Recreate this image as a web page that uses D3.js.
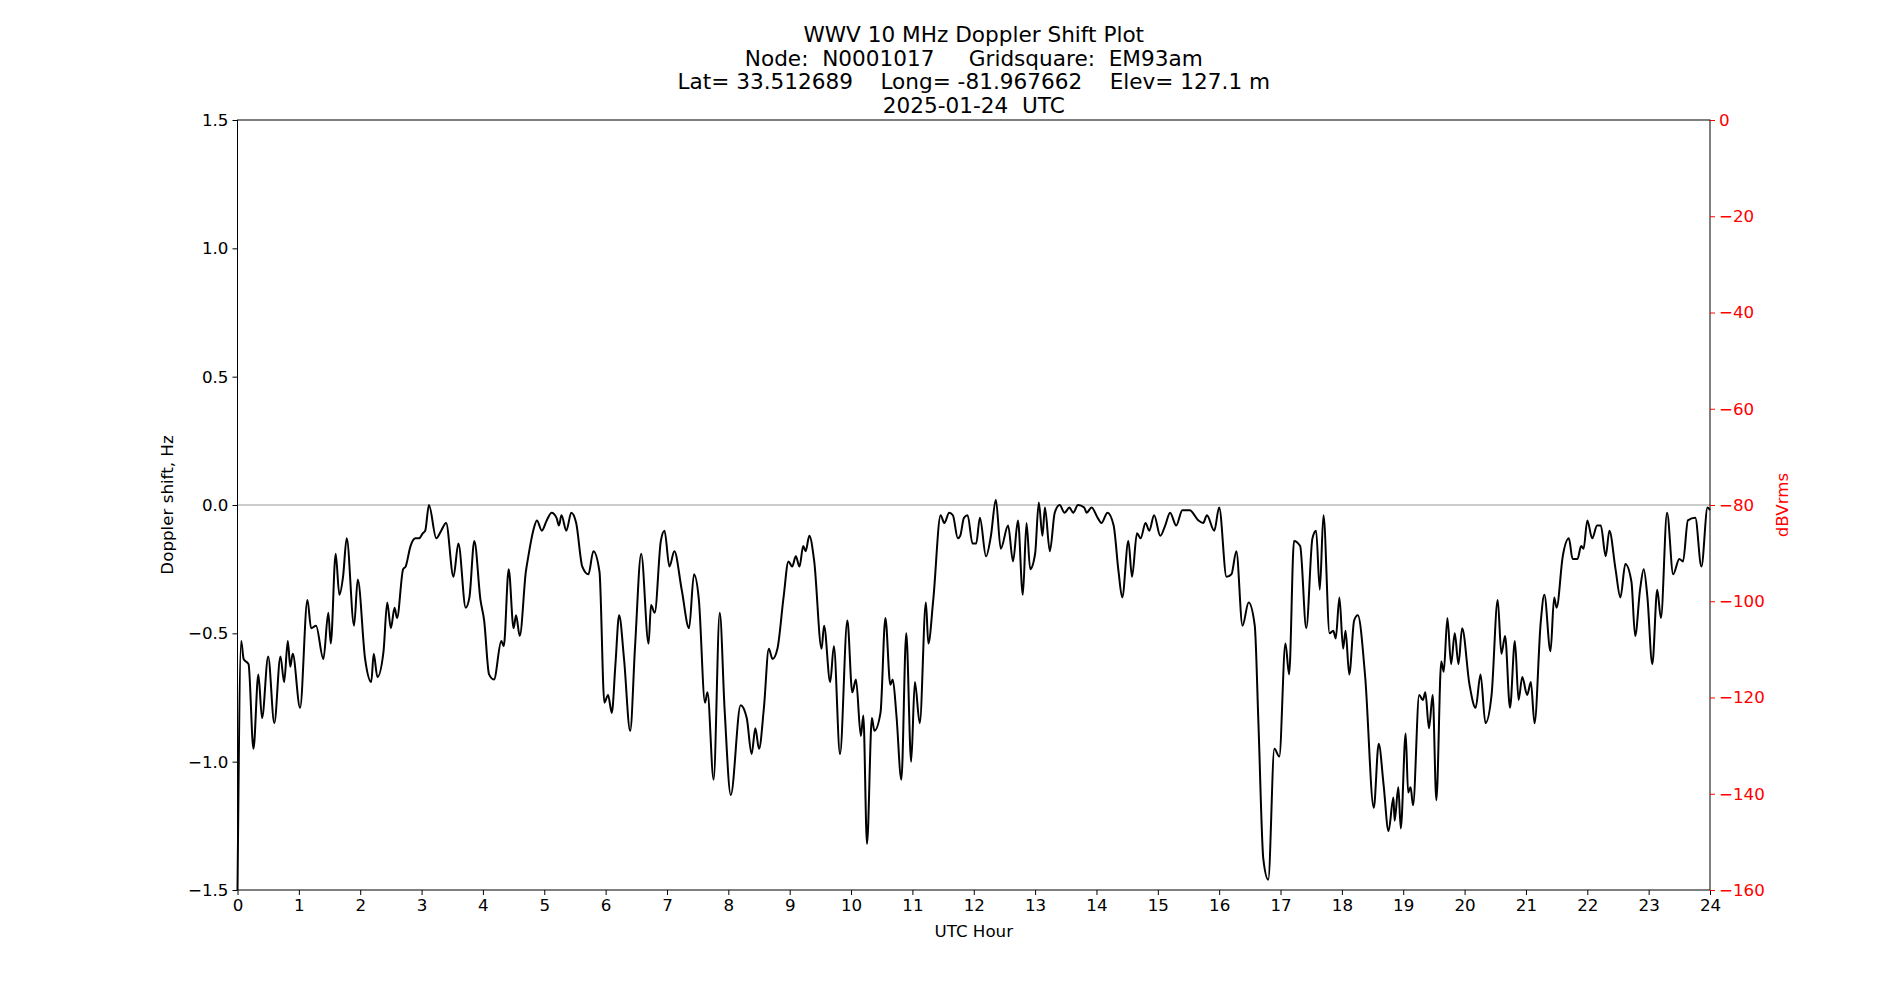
<!DOCTYPE html><html><head><meta charset="utf-8"><script src="https://cdn.jsdelivr.net/npm/d3@7"></script>
<style>body{margin:0;background:#fff}text{font-family:"DejaVu Sans",sans-serif;white-space:pre}</style></head><body><svg id="c" width="1900" height="1000"></svg>
<script>
const titleLines=["WWV 10 MHz Doppler Shift Plot","Node:  N0001017     Gridsquare:  EM93am","Lat= 33.512689    Long= -81.967662    Elev= 127.1 m","2025-01-24  UTC"];
const hours=[0,0.06,0.1,0.18,0.26,0.34,0.4,0.5,0.6,0.7,0.76,0.82,0.86,0.9,1.02,1.14,1.2,1.28,1.4,1.48,1.52,1.6,1.66,1.72,1.78,1.9,1.96,2.08,2.18,2.22,2.28,2.38,2.44,2.5,2.56,2.6,2.7,2.74,2.82,2.9,2.96,3.02,3.06,3.12,3.24,3.32,3.4,3.52,3.6,3.72,3.78,3.86,3.96,4.02,4.1,4.18,4.3,4.34,4.42,4.5,4.54,4.6,4.7,4.74,4.82,4.88,4.96,5.04,5.12,5.2,5.24,5.28,5.36,5.44,5.52,5.62,5.72,5.8,5.9,5.98,6.04,6.1,6.16,6.22,6.3,6.4,6.48,6.58,6.7,6.74,6.8,6.9,6.96,7.04,7.12,7.24,7.36,7.44,7.52,7.62,7.66,7.76,7.86,7.94,8.04,8.2,8.3,8.38,8.44,8.5,8.58,8.66,8.72,8.8,8.9,8.98,9.04,9.1,9.16,9.22,9.26,9.32,9.4,9.52,9.56,9.66,9.72,9.82,9.94,10.02,10.08,10.16,10.2,10.26,10.34,10.38,10.48,10.56,10.64,10.68,10.74,10.82,10.9,10.98,11.04,11.12,11.22,11.26,11.34,11.46,11.52,11.6,11.66,11.74,11.78,11.84,11.9,11.98,12.04,12.1,12.2,12.28,12.36,12.44,12.56,12.64,12.72,12.8,12.86,12.92,13.0,13.06,13.12,13.16,13.24,13.32,13.4,13.48,13.56,13.62,13.7,13.8,13.84,13.92,14.02,14.08,14.18,14.28,14.36,14.42,14.52,14.58,14.66,14.72,14.8,14.86,14.94,15.04,15.12,15.2,15.3,15.4,15.52,15.66,15.74,15.8,15.92,16.0,16.12,16.2,16.28,16.38,16.48,16.58,16.64,16.72,16.8,16.9,16.98,17.08,17.14,17.22,17.32,17.42,17.52,17.58,17.64,17.7,17.8,17.86,17.9,17.96,18.02,18.06,18.12,18.2,18.26,18.38,18.52,18.6,18.68,18.76,18.84,18.86,18.92,18.96,19.04,19.08,19.12,19.16,19.26,19.32,19.36,19.42,19.48,19.54,19.62,19.66,19.72,19.78,19.84,19.9,19.96,20.08,20.18,20.26,20.34,20.44,20.54,20.6,20.66,20.74,20.82,20.88,20.94,21.02,21.08,21.14,21.24,21.3,21.4,21.46,21.5,21.6,21.7,21.76,21.84,21.9,21.94,22.0,22.08,22.16,22.22,22.3,22.36,22.46,22.54,22.62,22.72,22.78,22.86,22.92,22.98,23.06,23.14,23.2,23.3,23.4,23.5,23.56,23.64,23.76,23.86,23.96,24];
const doppler=[-1.5,-0.53,-0.6,-0.62,-0.95,-0.66,-0.83,-0.59,-0.85,-0.59,-0.69,-0.53,-0.63,-0.58,-0.79,-0.37,-0.48,-0.47,-0.6,-0.42,-0.54,-0.19,-0.35,-0.28,-0.13,-0.47,-0.29,-0.6,-0.69,-0.58,-0.67,-0.57,-0.38,-0.48,-0.4,-0.44,-0.25,-0.24,-0.16,-0.13,-0.13,-0.11,-0.1,0.0,-0.13,-0.1,-0.07,-0.28,-0.15,-0.4,-0.36,-0.14,-0.37,-0.45,-0.66,-0.68,-0.53,-0.55,-0.25,-0.48,-0.43,-0.51,-0.26,-0.2,-0.1,-0.06,-0.1,-0.06,-0.03,-0.05,-0.08,-0.04,-0.1,-0.03,-0.07,-0.24,-0.27,-0.18,-0.26,-0.77,-0.74,-0.81,-0.62,-0.43,-0.6,-0.88,-0.55,-0.19,-0.54,-0.39,-0.42,-0.14,-0.1,-0.24,-0.18,-0.33,-0.48,-0.27,-0.37,-0.77,-0.73,-1.07,-0.42,-0.8,-1.13,-0.78,-0.83,-0.97,-0.87,-0.95,-0.79,-0.56,-0.6,-0.56,-0.36,-0.22,-0.24,-0.2,-0.24,-0.16,-0.18,-0.12,-0.22,-0.56,-0.47,-0.69,-0.55,-0.97,-0.45,-0.73,-0.68,-0.9,-0.82,-1.32,-0.83,-0.88,-0.81,-0.44,-0.7,-0.68,-0.82,-1.07,-0.5,-1.0,-0.69,-0.85,-0.38,-0.54,-0.37,-0.04,-0.07,-0.03,-0.04,-0.13,-0.12,-0.05,-0.04,-0.15,-0.15,-0.05,-0.2,-0.12,0.02,-0.17,-0.08,-0.22,-0.06,-0.35,-0.07,-0.25,-0.19,0.01,-0.12,-0.01,-0.18,-0.03,0.0,-0.03,-0.01,-0.03,0.0,-0.01,-0.03,-0.01,-0.05,-0.07,-0.03,-0.08,-0.26,-0.36,-0.14,-0.28,-0.11,-0.13,-0.07,-0.1,-0.04,-0.12,-0.08,-0.03,-0.08,-0.02,-0.02,-0.06,-0.07,-0.04,-0.1,-0.01,-0.28,-0.27,-0.18,-0.47,-0.38,-0.47,-0.85,-1.38,-1.46,-0.95,-0.98,-0.54,-0.66,-0.14,-0.16,-0.48,-0.13,-0.1,-0.33,-0.04,-0.5,-0.49,-0.52,-0.36,-0.56,-0.49,-0.66,-0.45,-0.43,-0.67,-1.18,-0.93,-1.09,-1.27,-1.14,-1.23,-1.1,-1.26,-0.89,-1.12,-1.1,-1.17,-0.74,-0.76,-0.73,-0.87,-0.74,-1.15,-0.61,-0.65,-0.44,-0.62,-0.5,-0.62,-0.48,-0.7,-0.79,-0.66,-0.85,-0.74,-0.37,-0.58,-0.51,-0.79,-0.53,-0.76,-0.67,-0.74,-0.69,-0.85,-0.46,-0.35,-0.57,-0.36,-0.4,-0.2,-0.13,-0.21,-0.21,-0.16,-0.17,-0.06,-0.13,-0.08,-0.08,-0.2,-0.1,-0.25,-0.36,-0.23,-0.3,-0.51,-0.33,-0.25,-0.36,-0.62,-0.33,-0.44,-0.03,-0.27,-0.21,-0.22,-0.06,-0.05,-0.24,-0.01,-0.02];
const xTicks=d3.range(0,25,1), yTicks=[-1.5,-1.0,-0.5,0.0,0.5,1.0,1.5], rTicks=[0,-20,-40,-60,-80,-100,-120,-140,-160];

const svg=d3.select("#c"), L=237.5,R=1710,T=120,B=890;
const x=d3.scaleLinear().domain([0,24]).range([L,R]);
const y=d3.scaleLinear().domain([-1.5,1.5]).range([B,T]);
const yr=d3.scaleLinear().domain([-160,0]).range([B,T]);
const mfmt=(f)=>v=>f(v).replace("-","\u2212");
svg.append("line").attr("x1",L).attr("x2",R).attr("y1",y(0)).attr("y2",y(0)).attr("stroke","#999").attr("stroke-width",1.2);
const g=svg.append("g");
g.append("path").datum(hours.map((h,i)=>[h,doppler[i]])).attr("fill","none").attr("stroke","#000").attr("stroke-width",2)
 .attr("d",d3.line().x(d=>x(d[0])).y(d=>y(d[1])).curve(d3.curveMonotoneX));
svg.append("rect").attr("x",L).attr("y",T).attr("width",R-L).attr("height",B-T).attr("fill","none").attr("stroke","#000").attr("stroke-width",1);
const st=(a,c)=>{a.selectAll("text").style("font-size","16.7px").attr("fill",c);a.selectAll("line").attr("stroke",c).attr("stroke-width",1);a.select(".domain").remove();};
svg.append("g").attr("transform",`translate(0,${B})`).call(d3.axisBottom(x).tickValues(xTicks).tickSize(5).tickPadding(4).tickFormat(d3.format("d"))).call(a=>st(a,"#000"));
svg.append("g").attr("transform",`translate(${L},0)`).call(d3.axisLeft(y).tickValues(yTicks).tickSize(5).tickPadding(4).tickFormat(mfmt(d3.format(".1f")))).call(a=>st(a,"#000"));
svg.append("g").attr("transform",`translate(${R},0)`).call(d3.axisRight(yr).tickValues(rTicks).tickSize(5).tickPadding(4).tickFormat(mfmt(d3.format("d")))).call(a=>st(a,"red"));
svg.append("text").attr("x",(L+R)/2).attr("y",937).attr("text-anchor","middle").style("font-size","16.7px").text("UTC Hour");
svg.append("text").attr("transform",`translate(173,${(T+B)/2}) rotate(-90)`).attr("text-anchor","middle").style("font-size","16.7px").text("Doppler shift, Hz");
svg.append("text").attr("transform",`translate(1788,${(T+B)/2}) rotate(-90)`).attr("text-anchor","middle").attr("fill","red").style("font-size","16.7px").text("dBVrms");
titleLines.forEach((t,i)=>svg.append("text").attr("x",(L+R)/2).attr("y",42+i*23.5).attr("text-anchor","middle").attr("xml:space","preserve").style("font-size","21.6px").text(t));
</script></body></html>
